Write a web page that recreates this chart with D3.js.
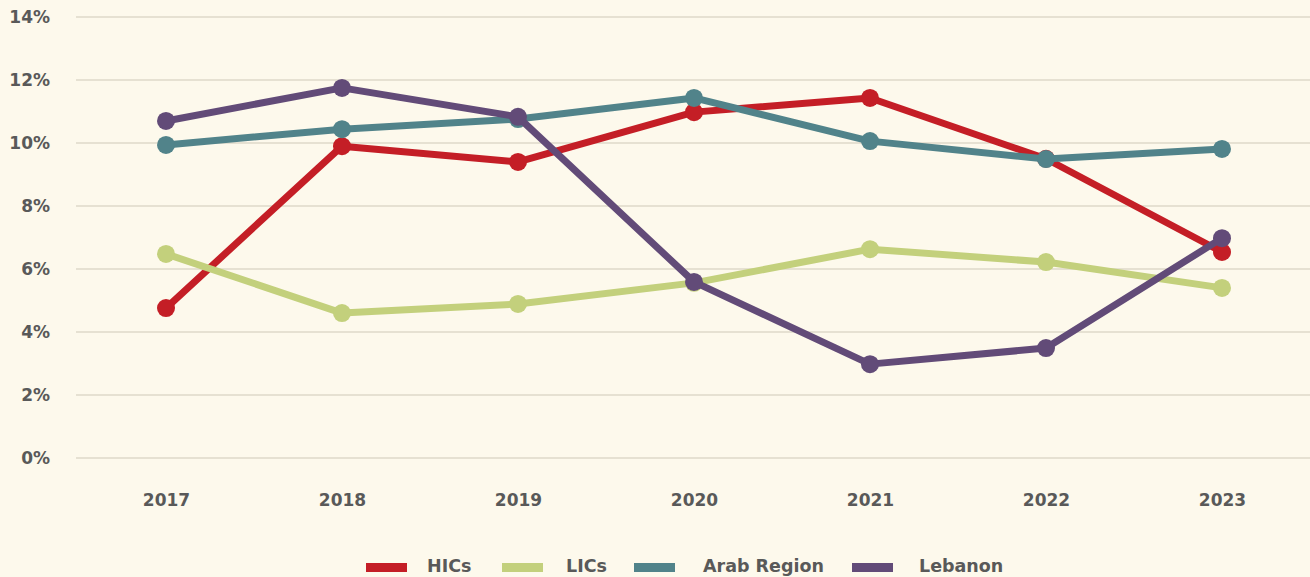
<!DOCTYPE html>
<html>
<head>
<meta charset="utf-8">
<script src="https://cdn.jsdelivr.net/npm/d3@7"></script>
<style>
  html, body { margin: 0; padding: 0; background: #fdf9ec; }
  svg { display: block; }
</style>
</head>
<body>
<div id="chart"></div>
<script>
// chart data
const years = ["2017", "2018", "2019", "2020", "2021", "2022", "2023"];
const hics = [4.76, 9.9, 9.4, 10.98, 11.43, 9.5, 6.54];
const lics = [6.48, 4.6, 4.89, 5.56, 6.63, 6.22, 5.4];
const arabRegion = [9.94, 10.44, 10.76, 11.43, 10.06, 9.49, 9.81];
const lebanon = [10.7, 11.75, 10.83, 5.59, 2.98, 3.49, 6.98];
const yTicks = [0, 2, 4, 6, 8, 10, 12, 14];

const series = [
  { name: "HICs", values: hics, color: "#c41e26" },
  { name: "LICs", values: lics, color: "#c3d07c" },
  { name: "Arab Region", values: arabRegion, color: "#51838a" },
  { name: "Lebanon", values: lebanon, color: "#624b78" }
];

const width = 1310, height = 577;
const font = "'DejaVu Sans', 'Open Sans', sans-serif";

const svg = d3.select("#chart")
  .append("svg")
  .attr("width", width)
  .attr("height", height);

svg.append("rect")
  .attr("width", width)
  .attr("height", height)
  .attr("fill", "#fdf9ec");

// scales
const x = d3.scalePoint().domain(years).range([78, 1310]).padding(0.5);
const y = d3.scaleLinear().domain([0, 14]).range([458, 17]);

// grid lines
svg.append("g")
  .selectAll("line")
  .data(yTicks)
  .join("line")
  .attr("x1", 76)
  .attr("x2", width)
  .attr("y1", d => y(d))
  .attr("y2", d => y(d))
  .attr("stroke", "#e6e1d2")
  .attr("stroke-width", 2);

// y axis labels
const yAxis = svg.append("g")
  .attr("transform", "translate(50,0)")
  .call(d3.axisLeft(y).tickValues(yTicks).tickFormat(d => d + "%").tickSize(0).tickPadding(0));
yAxis.select(".domain").remove();
yAxis.selectAll("text")
  .attr("font-family", font)
  .attr("font-weight", 700)
  .attr("font-size", 17)
  .attr("fill", "#595959");

// x axis labels
const xAxis = svg.append("g")
  .attr("transform", "translate(0,494)")
  .call(d3.axisBottom(x).tickSize(0).tickPadding(0));
xAxis.select(".domain").remove();
xAxis.selectAll("text")
  .attr("font-family", font)
  .attr("font-weight", 700)
  .attr("font-size", 17)
  .attr("fill", "#595959");

// lines and points
const line = d3.line()
  .x((d, i) => x(years[i]))
  .y(d => y(d));

series.forEach(s => {
  const g = svg.append("g");
  g.append("path")
    .datum(s.values)
    .attr("d", line)
    .attr("fill", "none")
    .attr("stroke", s.color)
    .attr("stroke-width", 7)
    .attr("stroke-linejoin", "round");
  g.selectAll("circle")
    .data(s.values)
    .join("circle")
    .attr("cx", (d, i) => x(years[i]))
    .attr("cy", d => y(d))
    .attr("r", 9)
    .attr("fill", s.color);
});

// legend (swatch x, label x)
const swatchX = [366, 502, 634, 852];
const labelX = [427, 566, 703, 919];
const legend = svg.append("g");
series.forEach((s, i) => {
  legend.append("rect")
    .attr("x", swatchX[i])
    .attr("y", 563)
    .attr("width", 41)
    .attr("height", 9)
    .attr("fill", s.color);
  legend.append("text")
    .attr("x", labelX[i])
    .attr("y", 572)
    .attr("font-family", font)
    .attr("font-weight", 700)
    .attr("font-size", 17.5)
    .attr("fill", "#595959")
    .text(s.name);
});
</script>
</body>
</html>
